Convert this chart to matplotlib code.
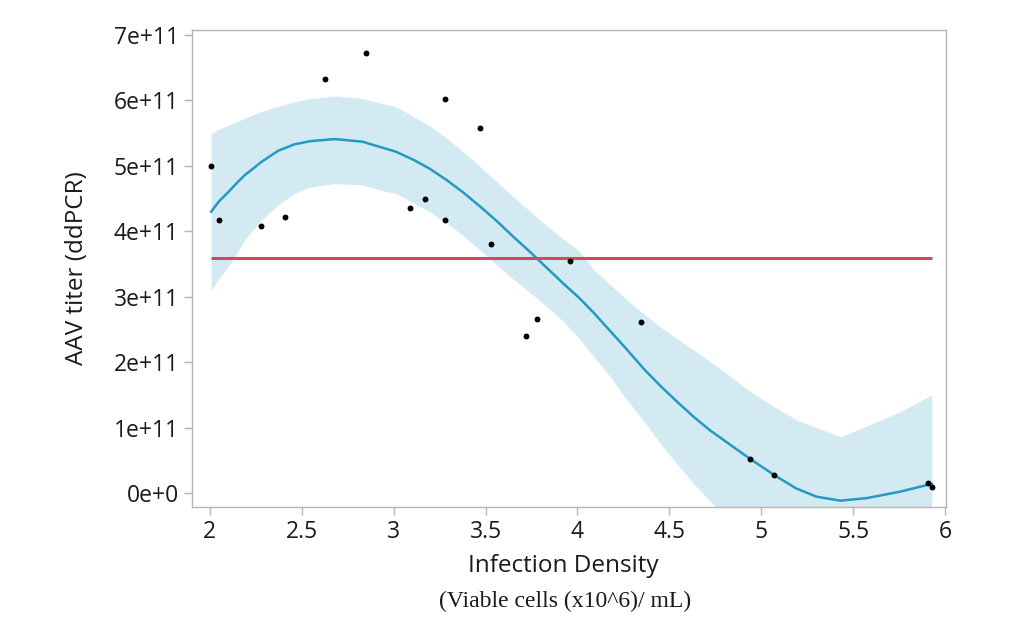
import numpy as np
import matplotlib.pyplot as plt

# observed points
density = [2.007, 2.047, 2.278, 2.408, 2.628, 2.847, 3.087, 3.168, 3.277, 3.277,
           3.468, 3.528, 3.718, 3.778, 3.958, 4.347, 4.939, 5.068, 5.909, 5.928]
titer = [5.00, 4.17, 4.08, 4.22, 6.33, 6.73, 4.36, 4.50, 6.02, 4.17,
         5.58, 3.81, 2.40, 2.66, 3.55, 2.62, 0.52, 0.275, 0.148, 0.087]
titer = [v * 1e11 for v in titer]

# smooth fit + confidence band
fit_x = [2.007, 2.05, 2.10, 2.15, 2.19, 2.24, 2.28, 2.37, 2.46, 2.55, 2.68, 2.83,
         2.925, 3.01, 3.11, 3.20, 3.29, 3.38, 3.47, 3.56, 3.65, 3.74, 3.83, 3.92,
         4.01, 4.09, 4.18, 4.27, 4.36, 4.45, 4.54, 4.63, 4.72, 4.81, 4.94, 5.07,
         5.19, 5.30, 5.43, 5.57, 5.755, 5.928]
fit_y = [4.30, 4.46, 4.60, 4.75, 4.86, 4.97, 5.06, 5.23, 5.33, 5.38, 5.41, 5.37,
         5.29, 5.22, 5.09, 4.95, 4.78, 4.59, 4.38, 4.16, 3.92, 3.69, 3.45, 3.21,
         2.98, 2.75, 2.47, 2.19, 1.90, 1.64, 1.40, 1.17, 0.96, 0.78, 0.52, 0.275,
         0.07, -0.056, -0.117, -0.08, 0.02, 0.14]
fit_hi = [5.50, 5.56, 5.62, 5.68, 5.73, 5.79, 5.83, 5.91, 5.98, 6.03, 6.07, 6.03,
          5.96, 5.91, 5.75, 5.60, 5.42, 5.21, 4.99, 4.76, 4.53, 4.31, 4.09, 3.89,
          3.70, 3.41, 3.18, 2.95, 2.74, 2.54, 2.36, 2.19, 2.01, 1.83, 1.55, 1.32,
          1.12, 1.00, 0.86, 1.02, 1.24, 1.50]
fit_lo = [3.10, 3.28, 3.46, 3.68, 3.87, 4.04, 4.17, 4.40, 4.58, 4.68, 4.73, 4.71,
          4.63, 4.58, 4.43, 4.29, 4.12, 3.93, 3.71, 3.49, 3.27, 3.07, 2.86, 2.63,
          2.36, 2.08, 1.77, 1.42, 1.10, 0.76, 0.45, 0.15, -0.12, -0.40, -0.80, -1.10,
          -1.30, -1.40, -1.45, -1.40, -1.30, -1.20]
fit_y = [v * 1e11 for v in fit_y]
fit_hi = [v * 1e11 for v in fit_hi]
fit_lo = [v * 1e11 for v in fit_lo]

ref_level = 3.587e11

fig = plt.figure(figsize=(10.1, 6.27), dpi=100)
ax = fig.add_axes([0.190, 0.1914, 0.7466, 0.7606])

ax.fill_between(fit_x, fit_lo, fit_hi, color='#d3eaf2', linewidth=0, zorder=1)
ax.plot(fit_x, fit_y, color='#2399c4', linewidth=1.8, zorder=2)
ax.hlines(ref_level, min(density), max(density), color='#d24a5a', linewidth=2.2, zorder=3)
ax.scatter(density, titer, s=18, color='black', zorder=4, linewidths=0)

ax.set_xlim(1.902, 6.005)
ax.set_ylim(-0.214e11, 7.076e11)
ax.set_xticks([2, 2.5, 3, 3.5, 4, 4.5, 5, 5.5, 6])
ax.set_xticklabels(['2', '2.5', '3', '3.5', '4', '4.5', '5', '5.5', '6'])
ax.set_yticks([i * 1e11 for i in range(8)])
ax.set_yticklabels(['0e+0'] + ['%de+11' % i for i in range(1, 8)])

for s in ax.spines.values():
    s.set_color('#b4b4b4')
    s.set_linewidth(1.0)
ax.tick_params(colors='#b4b4b4', labelcolor='#1a1a1a', length=6, width=1,
               labelsize=16.5)
for lab in ax.get_xticklabels() + ax.get_yticklabels():
    lab.set_family('Open Sans')

ax.set_xlabel('Infection Density', fontsize=17.5, family='Open Sans', color='#1a1a1a')
ax.set_ylabel('AAV titer (ddPCR)', fontsize=17.5, family='Open Sans', color='#1a1a1a')
ax.xaxis.label.set_va('center')
ax.yaxis.label.set_va('center')
ax.xaxis.set_label_coords(0.4926, -0.124)
ax.yaxis.set_label_coords(-0.1525, 0.5)
fig.text(0.559, 0.040, '(Viable cells (x10^6)/ mL)', ha='center', va='center',
         fontsize=17, family='Liberation Serif', color='#1a1a1a')

fig.savefig('out.png', dpi=100)
